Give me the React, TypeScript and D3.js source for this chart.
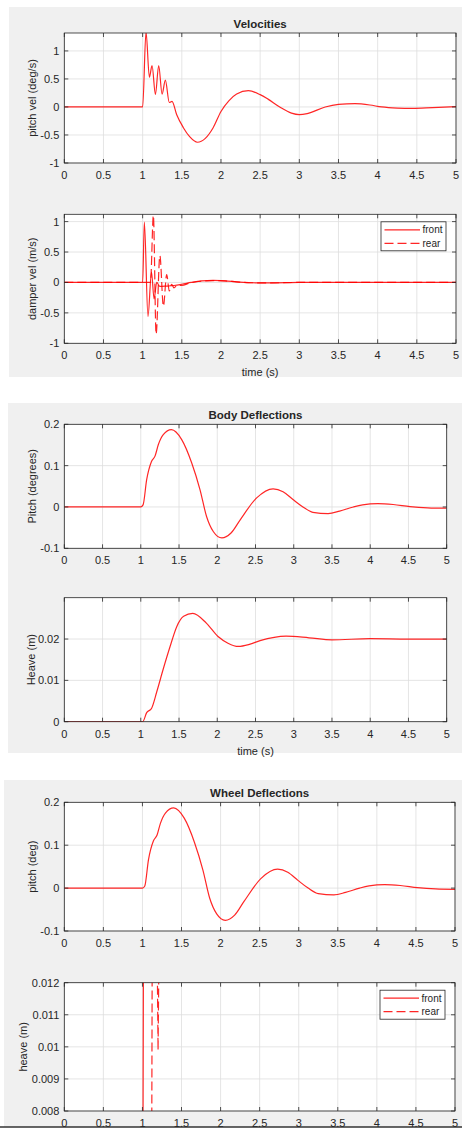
import React from "react";
import * as d3 from "d3";

// shared time ticks (s)
const xTicks = [0, 0.5, 1, 1.5, 2, 2.5, 3, 3.5, 4, 4.5, 5];

// Velocities: pitch vel (deg/s)
const pitchVelT = [0, 1.0, 1.043, 1.086, 1.12, 1.163, 1.205, 1.248, 1.29, 1.34, 1.375, 1.435, 1.52, 1.6, 1.7, 1.8, 1.9, 2.0, 2.1, 2.2, 2.35, 2.5, 2.6, 2.75, 2.9, 3.0, 3.1, 3.33, 3.5, 3.71, 3.9, 4.05, 4.25, 4.44, 4.7, 5.0];
const pitchVel = [0, 0, 1.34, 0.53, 0.74, 0.22, 0.74, 0.23, 0.48, 0.08, 0.1, -0.14, -0.37, -0.53, -0.63, -0.56, -0.37, -0.08, 0.11, 0.23, 0.29, 0.22, 0.14, 0.0, -0.11, -0.137, -0.12, 0.0, 0.045, 0.058, 0.035, 0.0, -0.02, -0.025, -0.012, 0.005];

// Velocities: damper vel (m/s)
const damperFrontT = [0, 1.0, 1.022, 1.068, 1.113, 1.146, 1.18, 1.22, 1.3, 1.4, 1.5, 1.62, 1.75, 1.9, 2.05, 2.2, 2.4, 2.6, 3.0, 3.3, 5.0];
const damperFront = [0, 0, 0.99, -0.56, 0.17, -0.27, 0.0, -0.065, -0.06, -0.05, -0.03, 0.0, 0.025, 0.033, 0.025, 0.01, -0.005, -0.008, 0.0, 0.002, 0];
const damperRearT = [0, 1.1, 1.137, 1.172, 1.22, 1.265, 1.307, 1.34, 1.37, 1.4, 1.44, 1.5, 1.6, 1.75, 1.9, 2.05, 2.2, 2.4, 2.6, 3.0, 5.0];
const damperRear = [0, 0, 1.1, -0.85, 0.44, -0.39, 0.13, -0.14, -0.03, -0.09, -0.05, -0.05, -0.01, 0.02, 0.03, 0.025, 0.01, -0.005, -0.007, 0, 0];

// Body deflections: pitch (degrees)
const bodyPitchT = [0, 1.0, 1.03, 1.077, 1.14, 1.186, 1.23, 1.294, 1.4, 1.535, 1.665, 1.774, 1.86, 1.95, 2.06, 2.18, 2.3, 2.515, 2.73, 2.86, 2.99, 3.12, 3.25, 3.45, 3.6, 3.78, 3.9, 4.1, 4.3, 4.52, 4.75, 5.0];
const bodyPitch = [0, 0, 0.005, 0.066, 0.11, 0.123, 0.151, 0.175, 0.187, 0.163, 0.107, 0.042, -0.023, -0.06, -0.075, -0.063, -0.031, 0.022, 0.044, 0.037, 0.018, 0.0, -0.013, -0.016, -0.01, 0.0, 0.005, 0.008, 0.006, 0.001, -0.002, -0.003];

// Body deflections: heave (m)
const bodyHeaveT = [0, 1.0, 1.025, 1.077, 1.14, 1.21, 1.29, 1.38, 1.47, 1.56, 1.68, 1.86, 2.01, 2.14, 2.275, 2.42, 2.56, 2.9, 3.2, 3.5, 4.0, 4.5, 5.0];
const bodyHeave = [0, 0, 0, 0.0022, 0.0032, 0.0073, 0.0125, 0.018, 0.023, 0.0255, 0.0262, 0.0238, 0.0206, 0.019, 0.0182, 0.0187, 0.0196, 0.0207, 0.0203, 0.0198, 0.0201, 0.02, 0.02];

// Wheel deflections: pitch (deg)
const wheelPitchT = [0, 1.0, 1.03, 1.077, 1.14, 1.186, 1.23, 1.294, 1.4, 1.535, 1.665, 1.774, 1.86, 1.95, 2.06, 2.18, 2.3, 2.515, 2.73, 2.86, 2.99, 3.12, 3.25, 3.45, 3.6, 3.78, 3.9, 4.1, 4.3, 4.52, 4.75, 5.0];
const wheelPitch = [0, 0, 0.005, 0.066, 0.11, 0.123, 0.151, 0.175, 0.187, 0.163, 0.107, 0.042, -0.023, -0.06, -0.075, -0.063, -0.031, 0.022, 0.044, 0.037, 0.018, 0.0, -0.013, -0.016, -0.01, 0.0, 0.005, 0.008, 0.006, 0.001, -0.002, -0.003];

// Wheel deflections: heave (m)
const wheelHeaveFrontT = [0, 1.0, 1.02, 5.0];
const wheelHeaveFront = [0, 0, 0.02, 0.02];
const wheelHeaveRearT = [0, 1.112, 1.132, 1.165, 1.192, 1.2, 1.208, 1.23, 5.0];
const wheelHeaveRear = [0, 0, 0.02, 0.017, 0.012, 0.0099, 0.012, 0.019, 0.02];

const legendLabels = ["front", "rear"];

const FONT = "'Liberation Sans', Arial, Helvetica, sans-serif";
const INK = "#262626";
const RED = "#ff0000";

type Series = { t: number[]; v: number[]; dashed?: boolean; linear?: boolean };

type AxesProps = {
  id: string;
  left: number;
  right: number;
  top: number;
  bottom: number;
  yDomain: [number, number];
  yTicks: number[];
  yLabel: string;
  yLabelX: number;
  title?: string;
  xLabel?: string;
  series: Series[];
  legend?: boolean;
};

const fmt = (v: number) => `${+v.toFixed(4)}`;

function Axes(p: AxesProps) {
  const x = d3.scaleLinear().domain([0, 5]).range([p.left, p.right]);
  const y = d3.scaleLinear().domain(p.yDomain).range([p.bottom, p.top]);
  const tl = 4;
  const midX = (p.left + p.right) / 2;
  const midY = (p.top + p.bottom) / 2;

  return (
    <g fontFamily={FONT}>
      <defs>
        <clipPath id={p.id}>
          <rect x={p.left} y={p.top} width={p.right - p.left} height={p.bottom - p.top} />
        </clipPath>
      </defs>
      <rect x={p.left} y={p.top} width={p.right - p.left} height={p.bottom - p.top} fill="#fff" />
      {/* grid */}
      {xTicks.map(t => (
        <line key={"gx" + t} x1={x(t)} x2={x(t)} y1={p.top} y2={p.bottom} stroke="#dedede" strokeWidth={0.8} />
      ))}
      {p.yTicks.map(t => (
        <line key={"gy" + t} x1={p.left} x2={p.right} y1={y(t)} y2={y(t)} stroke="#dedede" strokeWidth={0.8} />
      ))}
      {/* data */}
      <g clipPath={`url(#${p.id})`}>
        {p.series.map((s, i) => {
          const line = d3
            .line<number>()
            .x((_, j) => x(s.t[j]))
            .y(d => y(d))
            .curve(s.linear ? d3.curveLinear : d3.curveMonotoneX);
          return (
            <path
              key={i}
              d={line(s.v) || ""}
              fill="none"
              stroke={RED}
              strokeWidth={1.2}
              strokeDasharray={s.dashed ? "9,4" : undefined}
              strokeOpacity={0.85}
            />
          );
        })}
      </g>
      {/* box + ticks */}
      <rect x={p.left} y={p.top} width={p.right - p.left} height={p.bottom - p.top} fill="none" stroke={INK} strokeWidth={0.8} />
      {xTicks.map(t => (
        <g key={"tx" + t}>
          <line x1={x(t)} x2={x(t)} y1={p.bottom} y2={p.bottom - tl} stroke={INK} strokeWidth={0.8} />
          <line x1={x(t)} x2={x(t)} y1={p.top} y2={p.top + tl} stroke={INK} strokeWidth={0.8} />
          <text x={x(t)} y={p.bottom + 16} textAnchor="middle" fontSize={11} fill={INK}>
            {fmt(t)}
          </text>
        </g>
      ))}
      {p.yTicks.map(t => (
        <g key={"ty" + t}>
          <line x1={p.left} x2={p.left + tl} y1={y(t)} y2={y(t)} stroke={INK} strokeWidth={0.8} />
          <line x1={p.right} x2={p.right - tl} y1={y(t)} y2={y(t)} stroke={INK} strokeWidth={0.8} />
          <text x={p.left - 5} y={y(t) + 4} textAnchor="end" fontSize={11} fill={INK}>
            {fmt(t)}
          </text>
        </g>
      ))}
      <text transform={`translate(${p.yLabelX},${midY}) rotate(-90)`} textAnchor="middle" dominantBaseline="middle" fontSize={11} fill={INK}>
        {p.yLabel}
      </text>
      {p.title && (
        <text x={midX} y={p.top - 5} textAnchor="middle" fontSize={11.5} fontWeight="bold" fill={INK}>
          {p.title}
        </text>
      )}
      {p.xLabel && (
        <text x={midX} y={p.bottom + 33} textAnchor="middle" fontSize={11} fill={INK}>
          {p.xLabel}
        </text>
      )}
      {p.legend && (
        <g transform={`translate(${p.right - 75},${p.top + 7.5})`}>
          <rect x={0} y={0} width={65} height={29} fill="#fff" stroke={INK} strokeWidth={0.8} />
          {legendLabels.map((lab, i) => (
            <g key={lab} transform={`translate(0,${8 + i * 13.5})`}>
              <line x1={3.5} x2={39} y1={0} y2={0} stroke={RED} strokeWidth={1.2} strokeOpacity={0.85} strokeDasharray={i === 1 ? "9,4" : undefined} />
              <text x={41.5} y={3.5} fontSize={10} fill={INK}>
                {lab}
              </text>
            </g>
          ))}
        </g>
      )}
    </g>
  );
}

export default function App() {
  return (
    <svg width={462} height={1128} style={{ position: "absolute", left: 0, top: 0, background: "#fff" }}>
      {/* figure backgrounds */}
      <rect x={9} y={7} width={453} height={370} fill="#f0f0f0" />
      <rect x={8} y={403} width={454} height={350} fill="#f0f0f0" />
      <rect x={4} y={780} width={458} height={347} fill="#f0f0f0" />
      <line x1={0} x2={462} y1={1127} y2={1127} stroke="#333" strokeWidth={1.5} />

      <Axes
        id="c1" left={64.3} right={456} top={33} bottom={163}
        yDomain={[-1, 1.32]} yTicks={[-1, -0.5, 0, 0.5, 1]}
        yLabel="pitch vel (deg/s)" yLabelX={33} title="Velocities"
        series={[{ t: pitchVelT, v: pitchVel }]}
      />
      <Axes
        id="c2" left={64.3} right={456} top={214.3} bottom={343.3}
        yDomain={[-1, 1.12]} yTicks={[-1, -0.5, 0, 0.5, 1]}
        yLabel="damper vel (m/s)" yLabelX={33} xLabel="time (s)" legend
        series={[{ t: damperFrontT, v: damperFront }, { t: damperRearT, v: damperRear, dashed: true }]}
      />
      <Axes
        id="c3" left={64.3} right={446.7} top={424.3} bottom={548.3}
        yDomain={[-0.1, 0.2]} yTicks={[-0.1, 0, 0.1, 0.2]}
        yLabel="Pitch (degrees)" yLabelX={33} title="Body Deflections"
        series={[{ t: bodyPitchT, v: bodyPitch }]}
      />
      <Axes
        id="c4" left={64.3} right={446.7} top={597.7} bottom={721.7}
        yDomain={[0, 0.03]} yTicks={[0, 0.01, 0.02]}
        yLabel="Heave (m)" yLabelX={32} xLabel="time (s)"
        series={[{ t: bodyHeaveT, v: bodyHeave }]}
      />
      <Axes
        id="c5" left={64.3} right={455} top={802.3} bottom={931}
        yDomain={[-0.1, 0.2]} yTicks={[-0.1, 0, 0.1, 0.2]}
        yLabel="pitch (deg)" yLabelX={33} title="Wheel Deflections"
        series={[{ t: wheelPitchT, v: wheelPitch }]}
      />
      <Axes
        id="c6" left={64.3} right={455} top={982.7} bottom={1111}
        yDomain={[0.008, 0.012]} yTicks={[0.008, 0.009, 0.01, 0.011, 0.012]}
        yLabel="heave (m)" yLabelX={24} legend
        series={[
          { t: wheelHeaveFrontT, v: wheelHeaveFront, linear: true },
          { t: wheelHeaveRearT, v: wheelHeaveRear, dashed: true, linear: true },
        ]}
      />
    </svg>
  );
}
